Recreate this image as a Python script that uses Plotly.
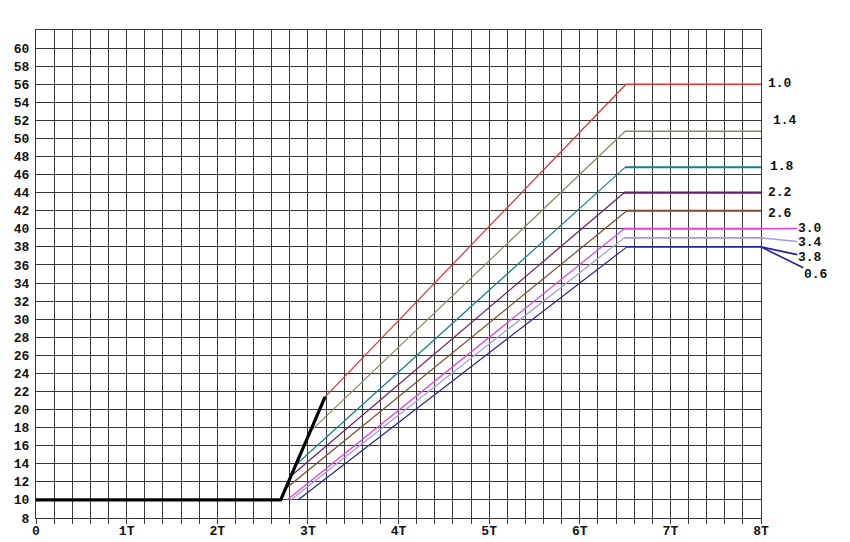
import plotly.graph_objects as go

# ---------------- data ----------------
x_tick_vals = [0, 1, 2, 3, 4, 5, 6, 7, 8]
x_tick_text = ["0", "1T", "2T", "3T", "4T", "5T", "6T", "7T", "8T"]
y_tick_vals = list(range(8, 61, 2))

# common black start line
black_x = [0.0, 2.70, 3.19]
black_y = [10.0, 10.0, 21.4]

# coloured series (label, start x, start y, knee x, plateau)
series_names = ["1.0", "1.4", "1.8", "2.2", "2.6", "3.0", "3.4", "3.8"]
start_x = [3.19, 3.05, 2.88, 2.82, 2.75, 2.77, 2.81, 2.89]
start_y = [21.4, 17.8, 14.0, 12.7, 11.2, 10.0, 10.0, 10.0]
knee_x = [6.51, 6.50, 6.50, 6.49, 6.52, 6.49, 6.49, 6.52]
plateau = [56.0, 50.8, 46.8, 44.0, 42.0, 40.0, 39.0, 38.0]
end_x = 8.0

# right hand labels
label_text = ["1.0", "1.4", "1.8", "2.2", "2.6", "3.0", "3.4", "3.8", "0.6"]
label_series = [0, 1, 2, 3, 4, 5, 6, 7, 7]

# ---------------- styles / layout ----------------
colors = ["#dc3232", "#8c8660", "#13808a", "#6a1c68", "#7a4a2e",
          "#e040e0", "#9a9ae6", "#22229a"]
plateau_width = [1.6, 1.6, 2.0, 2.4, 1.8, 2.0, 1.8, 1.8]

# label placement: (text left x, text centre y, leader line?)
label_layout = [
    (8.068, 56.1, False),
    (8.123, 52.0, False),
    (8.094, 46.9, False),
    (8.068, 44.0, False),
    (8.068, 41.7, False),
    (8.399, 40.05, True),
    (8.399, 38.46, True),
    (8.399, 36.85, True),
    (8.465, 35.0, True),
]

font_mono = "Liberation Mono"
grid_col = "#383838"
label_size = 13

fig = go.Figure()

for i, name in enumerate(series_names):
    fig.add_trace(go.Scatter(
        x=[start_x[i], knee_x[i]], y=[start_y[i], plateau[i]],
        mode="lines", line=dict(color=colors[i], width=1.2),
        showlegend=False, hoverinfo="skip"))
    fig.add_trace(go.Scatter(
        x=[knee_x[i], end_x], y=[plateau[i], plateau[i]],
        mode="lines", line=dict(color=colors[i], width=plateau_width[i]),
        showlegend=False, name=name))

fig.add_trace(go.Scatter(x=black_x, y=black_y, mode="lines",
                         line=dict(color="black", width=3.2),
                         showlegend=False, hoverinfo="skip"))

char_w = 0.6 * 14 / 90.6  # width of one char in T units
for txt, si, (lx, ly, leader) in zip(label_text, label_series, label_layout):
    cx = lx + char_w * len(txt) / 2
    fig.add_annotation(
        x=end_x, y=plateau[si], xref="x", yref="y",
        ax=cx, ay=ly, axref="x", ayref="y",
        text=txt, showarrow=True, arrowhead=0, arrowwidth=1.6,
        arrowcolor=colors[si] if leader else "rgba(0,0,0,0)",
        standoff=0, borderpad=0,
        font=dict(family=font_mono, size=label_size, color="#111",
                  weight="bold"))

tick_font = dict(family=font_mono, size=13, color="#111", weight="bold")

fig.update_layout(
    width=842, height=534,
    margin=dict(l=28, r=89, t=22, b=24, autoexpand=False),
    paper_bgcolor="white", plot_bgcolor="white",
    font=dict(family=font_mono, size=13, color="#111"),
    xaxis=dict(range=[0, 8], tickmode="array", tickvals=x_tick_vals,
               ticktext=x_tick_text, ticks="outside", ticklen=5,
               tickcolor=grid_col, showgrid=True, gridcolor=grid_col,
               gridwidth=1, zeroline=False, showline=True, linecolor=grid_col,
               mirror=True, automargin=False, ticklabelstandoff=-5,
               minor=dict(tickmode="linear", tick0=0, dtick=0.2,
                          ticks="outside", ticklen=5, tickcolor=grid_col,
                          showgrid=True, gridcolor=grid_col, gridwidth=1),
               tickfont=tick_font),
    yaxis=dict(range=[8, 62], tickmode="array", tickvals=y_tick_vals,
               ticks="", showgrid=True, gridcolor=grid_col, gridwidth=1,
               zeroline=False, showline=True, linecolor=grid_col, mirror=True,
               ticklabelstandoff=3, automargin=False,
               tickfont=tick_font),
)

fig.write_html("out.html")
